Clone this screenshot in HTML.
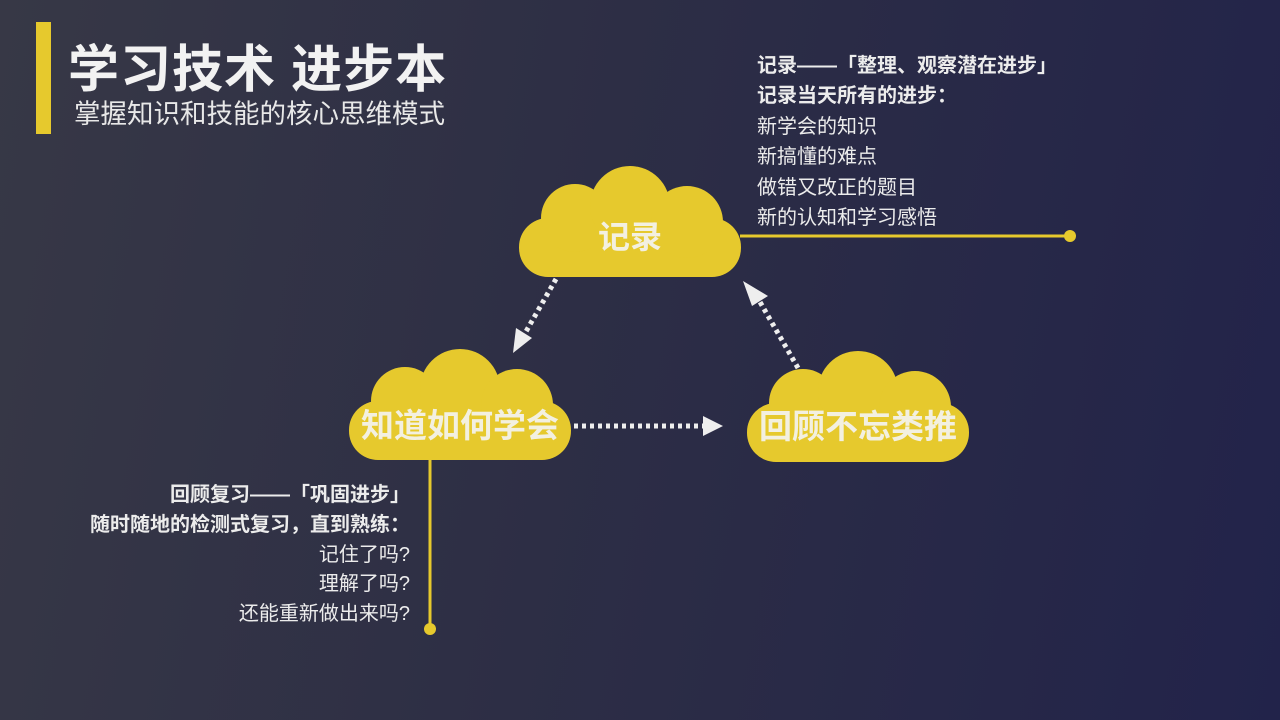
<!DOCTYPE html>
<html><head><meta charset="utf-8"><style>
html,body{margin:0;padding:0}
body{width:1280px;height:720px;overflow:hidden;position:relative;background:linear-gradient(100deg,#373846 0%,#2d2e45 45%,#22234a 100%);font-family:"Liberation Sans","Noto Sans CJK SC",sans-serif;color:#ececec}
.t{position:absolute;white-space:nowrap}
.bar{position:absolute;left:36px;top:22px;width:15px;height:112px;background:#e6c92d}
</style></head><body>
<div class="bar"></div>
<div class="t" style="left:68px;top:28px;font-size:51px;font-weight:bold;color:#f2f2f2;letter-spacing:1px">学习技术 进步本</div>
<div class="t" style="left:74px;top:92px;font-size:26.5px;color:#e8e8e8">掌握知识和技能的核心思维模式</div>

<div class="t" style="left:757px;top:51px;font-size:20px;line-height:30.4px;">
<b>记录——「整理、观察潜在进步」</b><br><b>记录当天所有的进步：</b><br>新学会的知识<br>新搞懂的难点<br>做错又改正的题目<br>新的认知和学习感悟</div>

<div class="t" style="right:870px;top:481px;font-size:20px;line-height:29.8px;text-align:right">
<b>回顾复习——「巩固进步」</b><br><b>随时随地的检测式复习，直到熟练：</b><br>记住了吗?<br>理解了吗?<br>还能重新做出来吗?</div>

<svg width="1280" height="720" style="position:absolute;left:0;top:0">
<defs>
<g id="cl"><rect x="0" y="52" width="222" height="59" rx="29" fill="#e6c92d"/><circle cx="56" cy="52" r="34" fill="#e6c92d"/><circle cx="111" cy="40" r="40" fill="#e6c92d"/><circle cx="168" cy="56" r="36" fill="#e6c92d"/></g>
</defs>
<line x1="740" y1="236" x2="1070" y2="236" stroke="#e6c92d" stroke-width="3"/>
<circle cx="1070" cy="236" r="6" fill="#e6c92d"/>
<line x1="430" y1="455" x2="430" y2="629" stroke="#e6c92d" stroke-width="3"/>
<circle cx="430" cy="629" r="6" fill="#e6c92d"/>
<use href="#cl" x="519" y="166"/>
<use href="#cl" x="349" y="349"/>
<use href="#cl" x="747" y="351"/>
<g stroke="#eeeeee" stroke-width="5" stroke-dasharray="4 4" fill="none">
<line x1="556" y1="279" x2="524" y2="335"/>
<line x1="798" y1="368" x2="760" y2="302"/>
<line x1="574" y1="426" x2="704" y2="426"/>
</g>
<g fill="#eeeeee">
<polygon points="513,353 516,328 532,338"/>
<polygon points="743,281 768,296 752,306"/>
<polygon points="723,426 703,416 703,436"/>
</g>
<g font-family="Liberation Sans,Noto Sans CJK SC,sans-serif" font-weight="bold" fill="#f3f0e0" text-anchor="middle">
<text x="630" y="248" font-size="32">记录</text>
<text x="460" y="437" font-size="33">知道如何学会</text>
<text x="858" y="438" font-size="33">回顾不忘类推</text>
</g>
</svg>
</body></html>
